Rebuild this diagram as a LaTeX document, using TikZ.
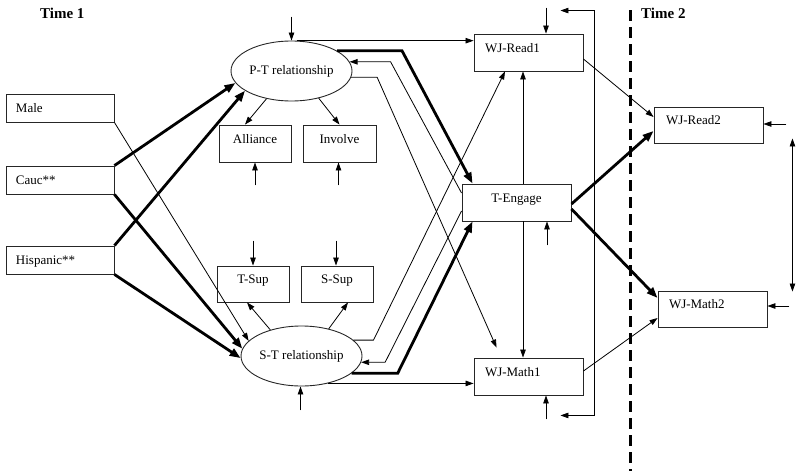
\documentclass[tikz,border=0pt]{standalone}
\usepackage{fontspec}
\setmainfont{Liberation Serif}
\usetikzlibrary{arrows.meta,calc,shapes.geometric}
\begin{document}
\begin{tikzpicture}[x=1pt,y=-1pt,
  every node/.style={font=\fontsize{13}{15}\selectfont},
  lbox/.style={draw=black!85, line width=0.9pt, rectangle, inner xsep=11pt, inner ysep=0pt,
    text width=87pt, align=left, minimum height=37pt, text height=18pt, text depth=19pt},
  sbox/.style={lbox, inner xsep=10pt, text width=88pt, minimum height=28pt, text height=18pt, text depth=10pt},
  cbox/.style={draw=black!85, line width=0.9pt, rectangle, inner sep=0pt, align=center,
    minimum height=37pt, text height=18pt, text depth=19pt},
  ell/.style={draw=black!85, line width=0.9pt, ellipse, inner sep=0pt, minimum width=121pt, minimum height=60pt},
  ar/.style={-{Triangle[length=8pt,width=5.5pt]}, line width=0.8pt},
  arb/.style={{Triangle[length=8pt,width=5.5pt]}-{Triangle[length=8pt,width=5.5pt]}, line width=0.8pt},
  thk/.style={-{Triangle[length=11pt,width=8pt]}, line width=2.8pt},
  ttl/.style={font=\bfseries\fontsize{15}{17}\selectfont, anchor=west, inner sep=0pt}
]
\useasboundingbox (0,0) rectangle (800,471);

% titles
\node[ttl] (t1) at (40,13) {Time 1};
\node[ttl] (t2) at (641,13) {Time 2};

% time divider
\coordinate (d1) at (630,10);
\coordinate (d2) at (630,471);
\draw[line width=3pt, dash pattern=on 11pt off 6pt] (d1) -- (d2);

% exogenous boxes
\node[sbox] (male) at (60,108) {Male};
\node[sbox] (cauc) at (60,180) {Cauc**};
\node[sbox] (hisp) at (60,260) {Hispanic**};

% latent variables
\node[ell] (PT) at (291.5,71) {P-T relationship};
\node[ell] (ST) at (301.5,356) {S-T relationship};

% indicators
\node[cbox, minimum width=72pt] (all) at (255,143.5) {Alliance};
\node[cbox, minimum width=73pt] (inv) at (339.5,143.5) {Involve};
\node[cbox, minimum width=72pt, minimum height=36pt, text height=17.5pt, text depth=18.5pt] (tsup) at (253,284) {T-Sup};
\node[cbox, minimum width=72pt, minimum height=36pt, text height=17.5pt, text depth=18.5pt] (ssup) at (337,284) {S-Sup};

% outcomes time 1
\node[lbox] (r1) at (528.5,52.5) {WJ-Read1};
\node[cbox, minimum width=109pt] (te) at (516.5,202.5) {T-Engage};
\node[lbox] (m1) at (528.5,376.5) {WJ-Math1};

% outcomes time 2
\node[lbox, inner xsep=12pt, text width=85pt, minimum height=36pt, text height=17.5pt, text depth=18.5pt] (r2) at (708.5,125) {WJ-Read2};
\node[lbox, minimum height=36pt, text height=17.5pt, text depth=18.5pt] (m2) at (712.5,309) {WJ-Math2};

% demographics -> latents
\draw[ar] (male.south east) -- (ST.164);
\draw[thk] (cauc.north east) -- (PT.192);
\draw[thk] (cauc.south east) -- (ST.173);
\draw[thk] (hisp.north east) -- (PT.203);
\draw[thk] (hisp.south east) -- (ST.182);

% latents -> indicators
\draw[ar] (PT.228) -- ($(all.north)+(-10,0)$);
\draw[ar] (PT.315) -- (inv.north);
\draw[ar] (ST.140) -- ($(tsup.south)+(-6,0)$);
\draw[ar] (ST.45) -- ($(ssup.south)+(11,0)$);

% P-T paths
\draw[ar] (PT.80) -- (PT.80 -| r1.west);
\draw[thk] (PT.24) -- ($(PT.24)+(65,0)$) -- ($(te.north west)+(11,0)$);
\draw[ar] ($(te.west)+(0,-9.5)$) -- ($(PT.9)+(41,0)$) -- (PT.9);
\draw[ar] (PT.354) -- ($(PT.354)+(26,0)$) -- ($(m1.north west)+(23,-10)$);

% S-T paths
\draw[ar] (ST.17) -- ($(ST.17)+(20,0)$) -- ($(r1.south)+(-23.5,0)$);
\draw[ar] ($(te.west)+(0,8.5)$) -- ($(ST.354)+(24,0)$) -- (ST.354);
\draw[thk] (ST.341) -- ($(ST.341)+(46,0)$) -- ($(te.south west)+(11,0)$);
\draw[ar] (ST.314) -- (ST.314 -| m1.west);

% T-Engage -> achievement at time 1
\coordinate (vx) at (523,0);
\draw[ar] (te.north -| vx) -- (r1.south -| vx);
\draw[ar] (te.south -| vx) -- (m1.north -| vx);

% paths to time 2
\draw[thk] ($(te.east)+(0,1.5)$) -- ($(r2.west)+(0,6)$);
\draw[thk] ($(te.east)+(0,6.5)$) -- ($(m2.west)+(0,-11)$);
\draw[ar] ($(r1.east)+(0,6.5)$) -- ($(r2.west)+(0,-8)$);
\draw[ar] ($(m1.east)+(0,-5.5)$) -- ($(m2.west)+(0,9)$);

% residual arrows
\draw[ar] ($(PT.north)+(0,-24)$) -- (PT.north);
\draw[ar] ($(all.south)+(0,23)$) -- (all.south);
\draw[ar] ($(inv.south)+(-1,23)$) -- ($(inv.south)+(-1,0)$);
\draw[ar] ($(tsup.north)+(0,-25)$) -- (tsup.north);
\draw[ar] ($(ssup.north)+(-1,-25)$) -- ($(ssup.north)+(-1,0)$);
\draw[ar] ($(ST.south)+(-1,24)$) -- ($(ST.south)+(-1,0)$);
\draw[ar] ($(r1.north)+(17.5,-26)$) -- ($(r1.north)+(17.5,0)$);
\draw[ar] ($(te.south)+(30.5,24)$) -- ($(te.south)+(30.5,0)$);
\draw[ar] ($(m1.south)+(17.5,24)$) -- ($(m1.south)+(17.5,0)$);
\draw[ar] ($(r2.east)+(23,-1)$) -- ($(r2.east)+(0,-1)$);
\draw[ar] ($(m2.east)+(22,-3)$) -- ($(m2.east)+(0,-3)$);

% residual correlations
\coordinate (c1) at ($(r1.north east)+(-23,-23)$);
\coordinate (c2) at ($(r1.north east)+(11,-23)$);
\coordinate (c3) at ($(m1.south east)+(11,20)$);
\coordinate (c4) at ($(m1.south east)+(-23,20)$);
\draw[arb] (c1) -- (c2) -- (c3) -- (c4);
\coordinate (e1) at ($(r2.south east)+(29,-5)$);
\coordinate (e2) at ($(m2.north east)+(25,1)$);
\draw[arb] (e1) -- (e2);
\end{tikzpicture}
\end{document}
